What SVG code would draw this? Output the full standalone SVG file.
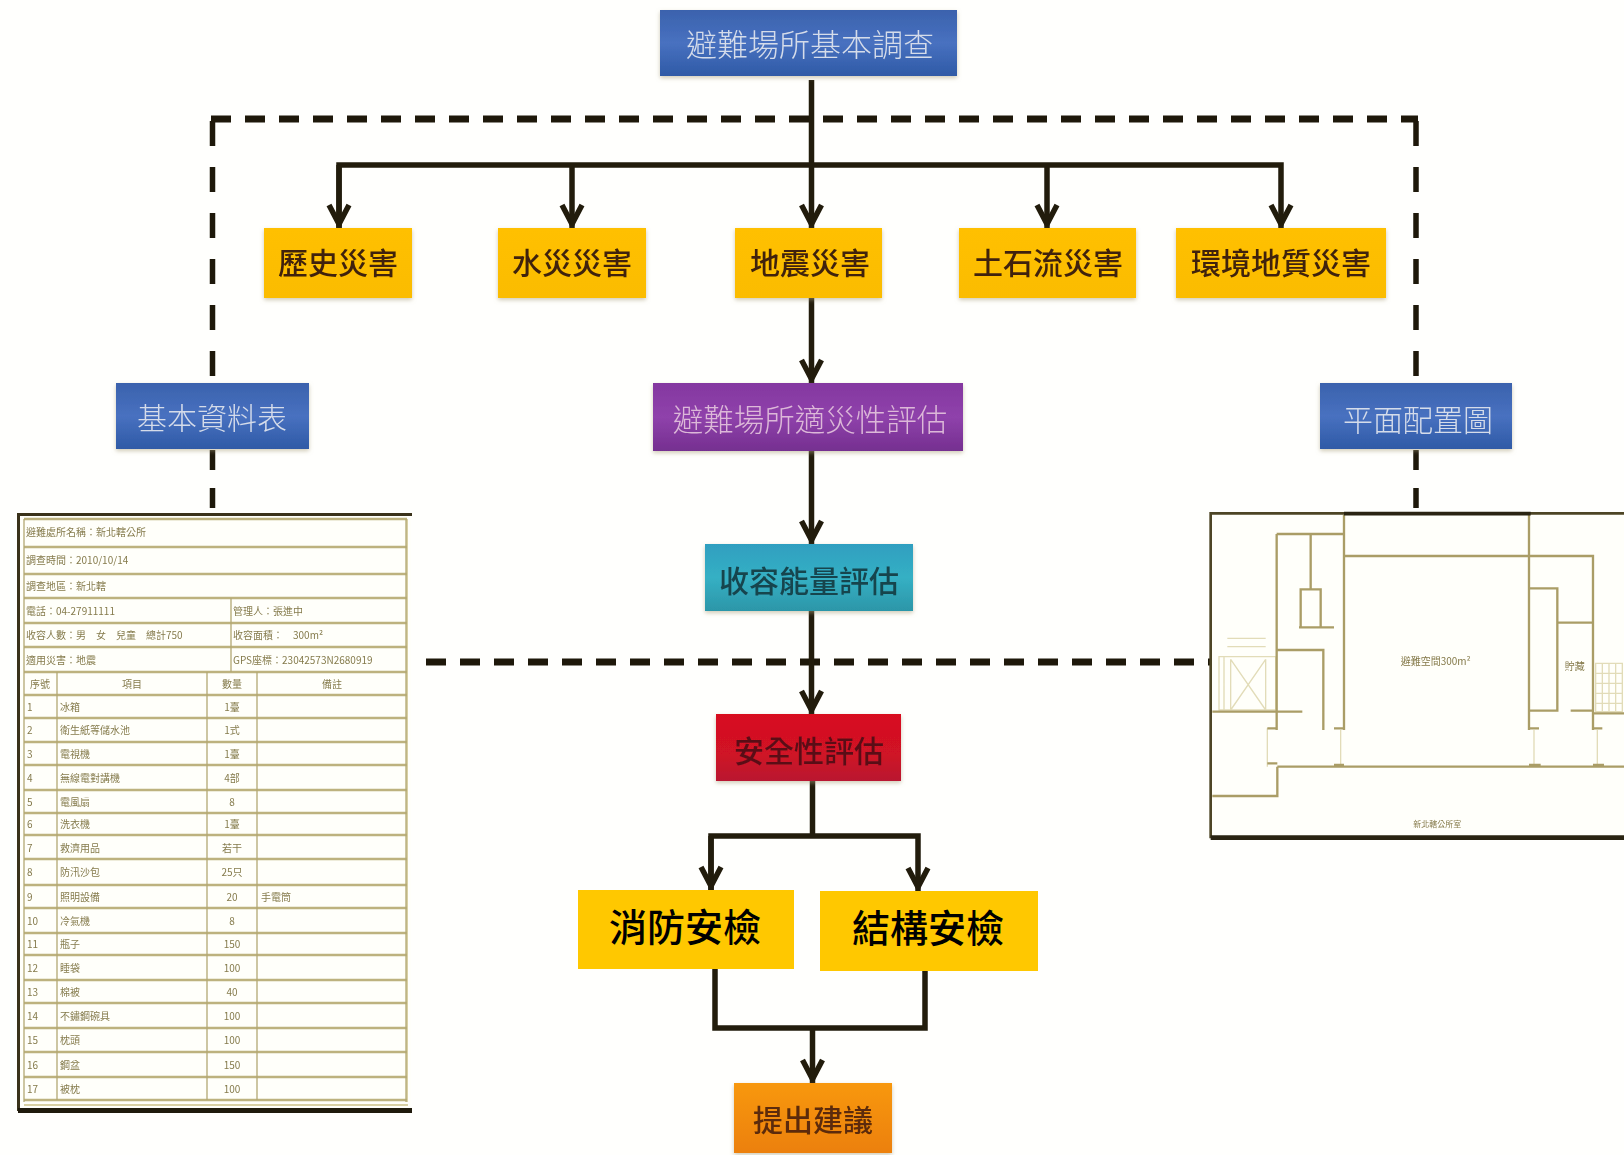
<svg xmlns="http://www.w3.org/2000/svg" width="1624" height="1155" viewBox="0 0 1624 1155">
<style>
text{font-family:"Noto Sans CJK TC","Noto Sans",sans-serif;text-anchor:middle;dominant-baseline:central}
.lb{font-size:30px;filter:url(#bt)}
.w{fill:#d5dcea;font-weight:300}
.p{fill:#dcb8d8;font-weight:300}
.d{fill:#40240a;font-weight:500}
.t{fill:#17444e;font-weight:500}
.r{fill:#5a0f18;font-weight:500}
.k{font-size:38px;font-weight:500;fill:#000}
.o{fill:#5c2c08;font-weight:500}
.box{filter:url(#sh)}
.ln{fill:none;stroke:#221c0c;stroke-width:5.500}
.dh{fill:none;stroke:#1e180a;stroke-width:7;stroke-dasharray:20 14}
.dv{fill:none;stroke:#1e180a;stroke-width:5.500;stroke-dasharray:25 21}
.tb{stroke:#bdb27e;stroke-width:2.400;fill:none}
.tb2{stroke:#b3a873;stroke-width:1.300;fill:none}
.tx{font-size:10px;fill:#857b4c}
.txl{font-size:10px;fill:#857b4c;text-anchor:start}
.pl{fill:none;stroke:#aa9d66;stroke-width:7}
.pf{fill:none;stroke:#e2dcb8;stroke-width:4}
.pt{font-size:24px;fill:#857a4a}
</style>
<defs>
<linearGradient id="gb" x1="0" y1="0" x2="0" y2="1"><stop offset="0" stop-color="#3b62ad"/><stop offset=".5" stop-color="#4871c0"/><stop offset="1" stop-color="#2f5aa6"/></linearGradient>
<linearGradient id="gp" x1="0" y1="0" x2="0" y2="1"><stop offset="0" stop-color="#8437a0"/><stop offset=".5" stop-color="#8f42ab"/><stop offset="1" stop-color="#752f90"/></linearGradient>
<linearGradient id="gt" x1="0" y1="0" x2="0" y2="1"><stop offset="0" stop-color="#2f9fc0"/><stop offset=".5" stop-color="#35b0c4"/><stop offset="1" stop-color="#2c96a8"/></linearGradient>
<linearGradient id="gr" x1="0" y1="0" x2="0" y2="1"><stop offset="0" stop-color="#d8101f"/><stop offset=".6" stop-color="#cf1226"/><stop offset="1" stop-color="#b91630"/></linearGradient>
<linearGradient id="go" x1="0" y1="0" x2="0" y2="1"><stop offset="0" stop-color="#f8980c"/><stop offset="1" stop-color="#ec800a"/></linearGradient>
<linearGradient id="gy" x1="0" y1="0" x2="0" y2="1"><stop offset="0" stop-color="#ffc000"/><stop offset="1" stop-color="#fbbc04"/></linearGradient>
<filter id="sh" x="-10%" y="-15%" width="120%" height="135%"><feGaussianBlur in="SourceAlpha" stdDeviation="2"/><feOffset dy="2"/><feColorMatrix values="0 0 0 0 .4 0 0 0 0 .35 0 0 0 0 .2 0 0 0 .55 0"/><feMerge><feMergeNode/><feMergeNode in="SourceGraphic"/></feMerge></filter>
<filter id="bl" x="-5%" y="-5%" width="110%" height="110%"><feGaussianBlur stdDeviation=".6"/></filter>
<filter id="bs" x="-5%" y="-5%" width="110%" height="110%"><feGaussianBlur stdDeviation=".6"/></filter>
<filter id="bt" x="-5%" y="-10%" width="110%" height="120%"><feGaussianBlur stdDeviation=".4"/></filter>
<marker id="ah" viewBox="-28 -14 30 28" refX="0" refY="0" markerWidth="30" markerHeight="28" markerUnits="userSpaceOnUse" orient="auto"><path d="M-23,-10 L-4,0 L-23,10" fill="none" stroke="#221c0c" stroke-width="5.500"/><path d="M-14,-3 L0,0 L-14,3Z" fill="#221c0c"/></marker>
</defs>
<rect width="1624" height="1155" fill="#fffffd"/>

<g id="connectors">
<path class="dh" d="M211 119H1418"/>
<path class="dv" d="M212.500 121V383"/>
<path class="dv" d="M1416 121V383"/>
<path class="dv" style="stroke-dasharray:20 18" d="M212.500 450V513"/>
<path class="dv" style="stroke-dasharray:20 18" d="M1416 450V513"/>
<path class="dh" d="M426 662H1210"/>
<path class="ln" d="M811.500 80V228" marker-end="url(#ah)"/>
<path class="ln" d="M339 228V165H1281V228" marker-end="url(#ah)"/>
<path class="ln" d="M339 165V228" marker-end="url(#ah)"/>
<path class="ln" d="M572 165V228" marker-end="url(#ah)"/>
<path class="ln" d="M1047 165V228" marker-end="url(#ah)"/>
<path class="ln" d="M811.500 297V383" marker-end="url(#ah)"/>
<path class="ln" d="M811.500 451V544" marker-end="url(#ah)"/>
<path class="ln" d="M811.500 611V714" marker-end="url(#ah)"/>
<path class="ln" d="M812.500 781V836"/>
<path class="ln" d="M711 890V836H918V891" marker-end="url(#ah)"/>
<path class="ln" d="M711 836V890" marker-end="url(#ah)"/>
<path class="ln" d="M715 969V1028H925V971"/>
<path class="ln" d="M812.500 1028V1083" marker-end="url(#ah)"/>
</g>

<g id="n-survey"><rect class="box" x="660" y="10" width="297" height="66" fill="url(#gb)"/><text class="lb w" x="810" y="42" style="font-size:31px">避難場所基本調查</text></g>
<g id="n-history"><rect class="box" x="264" y="228" width="148" height="70" fill="url(#gy)"/><text class="lb d" x="338" y="261">歷史災害</text></g>
<g id="n-flood"><rect class="box" x="498" y="228" width="148" height="70" fill="url(#gy)"/><text class="lb d" x="572" y="261">水災災害</text></g>
<g id="n-quake"><rect class="box" x="735" y="228" width="147" height="70" fill="url(#gy)"/><text class="lb d" x="810" y="261">地震災害</text></g>
<g id="n-debris"><rect class="box" x="959" y="228" width="177" height="70" fill="url(#gy)"/><text class="lb d" x="1048" y="261">土石流災害</text></g>
<g id="n-geo"><rect class="box" x="1176" y="228" width="210" height="70" fill="url(#gy)"/><text class="lb d" x="1281" y="261">環境地質災害</text></g>
<g id="n-basic"><rect class="box" x="116" y="383" width="193" height="66" fill="url(#gb)"/><text class="lb w" x="212" y="416">基本資料表</text></g>
<g id="n-suit"><rect class="box" x="653" y="383" width="310" height="68" fill="url(#gp)"/><text class="lb p" x="810" y="418" style="font-size:30.500px">避難場所適災性評估</text></g>
<g id="n-layout"><rect class="box" x="1320" y="383" width="192" height="66" fill="url(#gb)"/><text class="lb w" x="1418" y="418">平面配置圖</text></g>
<g id="n-capacity"><rect class="box" x="705" y="544" width="208" height="67" fill="url(#gt)"/><text class="lb t" x="809" y="579">收容能量評估</text></g>
<g id="n-safety"><rect class="box" x="716" y="714" width="185" height="67" fill="url(#gr)"/><text class="lb r" x="809" y="749">安全性評估</text></g>
<g id="n-fire"><rect x="578" y="890" width="216" height="79" fill="#ffc800"/><text class="k" x="685" y="924">消防安檢</text></g>
<g id="n-struct"><rect x="820" y="891" width="218" height="80" fill="#ffc800"/><text class="k" x="928" y="925">結構安檢</text></g>
<g id="n-advice"><rect class="box" x="734" y="1083" width="158" height="70" fill="url(#go)"/><text class="lb o" x="813" y="1118">提出建議</text></g>

<g id="table">
<rect x="19" y="515" width="392" height="595" fill="#fffffa"/>
<path fill="none" stroke="#3a321a" stroke-width="3" d="M412 514.500H18.500V1111"/>
<path fill="none" stroke="#1f1a0c" stroke-width="5" d="M18 1110.500H412"/>
<path fill="none" stroke="#d8d0a4" stroke-width="2" d="M407 519V1102M24 1105H408"/>
<g filter="url(#bs)">
<path class="tb" d="M24 519H407M24 547H407M24 574H407M24 598H407M24 623H407M24 647H407M24 672H407M24 695H407M24 718H407M24 742H407M24 765H407M24 790H407M24 813H407M24 835H407M24 859H407M24 885H407M24 908H407M24 933H407M24 955H407M24 980H407M24 1003H407M24 1028H407M24 1052H407M24 1077H407M24 1100H407"/>
<path class="tb2" d="M24 519V1102M406 519V1102M57 672V1100M207 672V1100M257 672V1100M231 598V672"/>
<g>
<text class="txl" x="26" y="531">避難處所名稱：新北轄公所</text>
<text class="txl" x="26" y="559">調查時間：2010/10/14</text>
<text class="txl" x="26" y="585">調查地區：新北轄</text>
<text class="txl" x="26" y="610">電話：04-27911111</text>
<text class="txl" x="233" y="610">管理人：張進中</text>
<text class="txl" x="26" y="634">收容人數：男　女　兒童　總計750</text>
<text class="txl" x="233" y="634">收容面積：　300m²</text>
<text class="txl" x="26" y="659">適用災害：地震</text>
<text class="txl" x="233" y="659">GPS座標：23042573N2680919</text>
<text class="tx" x="40" y="683">序號</text><text class="tx" x="132" y="683">項目</text><text class="tx" x="232" y="683">數量</text><text class="tx" x="332" y="683">備註</text>
<text class="txl" x="27" y="706">1</text><text class="txl" x="60" y="706">冰箱</text><text class="tx" x="232" y="706">1臺</text>
<text class="txl" x="27" y="729">2</text><text class="txl" x="60" y="729">衛生紙等儲水池</text><text class="tx" x="232" y="729">1式</text>
<text class="txl" x="27" y="753">3</text><text class="txl" x="60" y="753">電視機</text><text class="tx" x="232" y="753">1臺</text>
<text class="txl" x="27" y="777">4</text><text class="txl" x="60" y="777">無線電對講機</text><text class="tx" x="232" y="777">4部</text>
<text class="txl" x="27" y="801">5</text><text class="txl" x="60" y="801">電風扇</text><text class="tx" x="232" y="801">8</text>
<text class="txl" x="27" y="823">6</text><text class="txl" x="60" y="823">洗衣機</text><text class="tx" x="232" y="823">1臺</text>
<text class="txl" x="27" y="847">7</text><text class="txl" x="60" y="847">救濟用品</text><text class="tx" x="232" y="847">若干</text>
<text class="txl" x="27" y="871">8</text><text class="txl" x="60" y="871">防汛沙包</text><text class="tx" x="232" y="871">25只</text>
<text class="txl" x="27" y="896">9</text><text class="txl" x="60" y="896">照明設備</text><text class="tx" x="232" y="896">20</text><text class="txl" x="261" y="896">手電筒</text>
<text class="txl" x="27" y="920">10</text><text class="txl" x="60" y="920">冷氣機</text><text class="tx" x="232" y="920">8</text>
<text class="txl" x="27" y="943">11</text><text class="txl" x="60" y="943">瓶子</text><text class="tx" x="232" y="943">150</text>
<text class="txl" x="27" y="967">12</text><text class="txl" x="60" y="967">睡袋</text><text class="tx" x="232" y="967">100</text>
<text class="txl" x="27" y="991">13</text><text class="txl" x="60" y="991">棉被</text><text class="tx" x="232" y="991">40</text>
<text class="txl" x="27" y="1015">14</text><text class="txl" x="60" y="1015">不鏽鋼碗具</text><text class="tx" x="232" y="1015">100</text>
<text class="txl" x="27" y="1039">15</text><text class="txl" x="60" y="1039">枕頭</text><text class="tx" x="232" y="1039">100</text>
<text class="txl" x="27" y="1064">16</text><text class="txl" x="60" y="1064">鋼盆</text><text class="tx" x="232" y="1064">150</text>
<text class="txl" x="27" y="1088">17</text><text class="txl" x="60" y="1088">被枕</text><text class="tx" x="232" y="1088">100</text>
</g>
</g>
</g>

<g id="plan" transform="translate(1194 500) scale(.33333)">
<rect x="52" y="40" width="1240" height="975" fill="#fffffa"/>
<g filter="url(#bl)">
<path class="pf" d="M75 470H245V630H75ZM110 478V630M215 478V630M110 478L215 630M215 478L110 630M100 415H215M100 440H215M90 470V630M1205 490H1285V635H1205ZM1225 490V635M1245 490V635M1265 490V635M1205 520H1285M1205 550H1285M1205 580H1285M1205 610H1285M220 685V800M440 690V795M1020 690V795M1210 690V795"/>
<path class="pl" d="M450 45V690M1005 45V690M450 168H1197V690M248 102H450M248 102V690M350 102V265M320 268H380V382H320ZM315 382H420M248 450H388V690M55 635H325M250 800V888H55M250 800H1290M1005 265H1090V632H1005M1090 368H1197M1130 632H1200M1200 640H1290M220 685H250M420 685H450M1005 685H1035M1197 685H1225M220 790H250M420 795H450M1005 795H1040M1197 795H1230"/>
</g>
<path fill="none" stroke="#4d4525" stroke-width="8" d="M1292 40H50V1015"/>
<path fill="none" stroke="#2a2412" stroke-width="14" d="M50 1013H1292"/>
<path fill="none" stroke="#2a2412" stroke-width="11" d="M450 41H1010"/>
<g filter="url(#bs)">
<text class="pt" x="725" y="482" style="font-size:30px">避難空間300m²</text>
<text class="pt" x="1142" y="497" style="font-size:30px">貯藏</text>
<text class="pt" x="730" y="970">新北轄公所室</text>
</g>
</g>
</svg>
